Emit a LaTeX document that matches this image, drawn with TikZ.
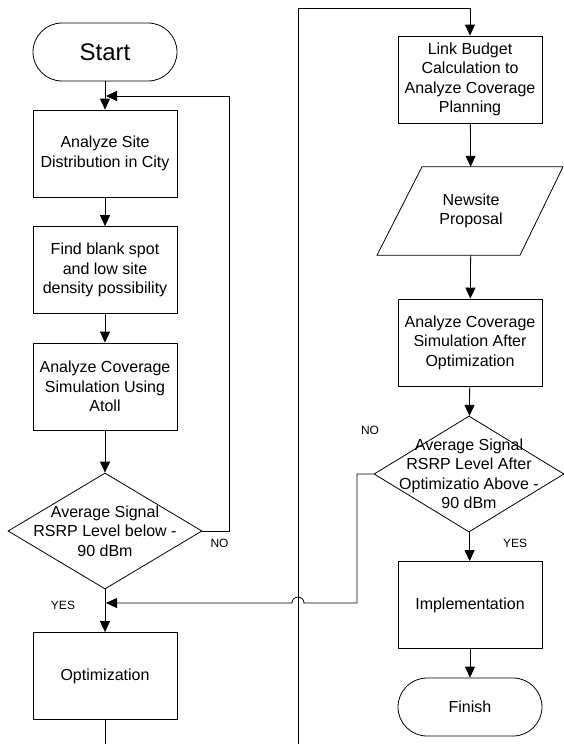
\documentclass[tikz,border=0pt]{standalone}
\usepackage{fontspec}
\setmainfont{Liberation Sans}
\usetikzlibrary{shapes.geometric,arrows.meta,calc}
\begin{document}
\begin{tikzpicture}[x=1pt,y=-1pt,
    every node/.style={font=\fontsize{16}{19.5}\selectfont, align=center},
    caixa/.style={draw, line width=0.8pt, minimum width=144pt, minimum height=87pt, inner sep=2pt},
    term/.style={draw, line width=0.8pt, rounded corners=29pt, minimum width=144pt, minimum height=58pt},
    decisao/.style={draw, diamond, line width=0.8pt, minimum width=194pt, minimum height=116pt, inner sep=0pt},
    rot/.style={font=\fontsize{12}{14}\selectfont},
    seta/.style={line width=0.8pt, -{Triangle[length=11pt,width=10pt]}},
    linha/.style={line width=0.8pt}]
    \useasboundingbox (0,0) rectangle (563,744);

    % Coluna esquerda
    \node (start) [term, font=\fontsize{24}{28}\selectfont] at (105,52) {Start};
    \node (a1) [caixa] at (105,153.5) {Analyze Site\\Distribution in City};
    \node (a2) [caixa] at (105,270) {Find blank spot\\and low site\\density possibility};
    \node (a3) [caixa] at (105,386.5) {Analyze Coverage\\Simulation Using\\Atoll};
    \node (d1) [decisao] at (105,531) {};
    \node (d1txt) at (d1) {Average Signal\\RSRP Level below -\\90 dBm};
    \node (opt) [caixa] at (105,676) {Optimization};

    % Coluna direita
    \node (lb) [caixa] at (470,79.5) {Link Budget\\Calculation to\\Analyze Coverage\\Planning};
    \node (prop) [minimum width=96pt, minimum height=88pt] at (471,211) {Newsite\\Proposal};
    \draw[linha] ($(prop.north)+(-49,0)$) -- ($(prop.north)+(92,0)$)
        -- ($(prop.south)+(49,0)$) -- ($(prop.south)+(-94,0)$) -- cycle;
    \node (a4) [caixa] at (470,342.5) {Analyze Coverage\\Simulation After\\Optimization};
    \node (d2) [decisao, minimum width=190pt] at (469,474) {};
    \node (d2txt) at (d2) {Average Signal\\RSRP Level After\\Optimizatio Above -\\90 dBm};
    \node (impl) [caixa] at (470,605) {Implementation};
    \node (fin) [term] at (470,707) {Finish};

    % Rotulos
    \node (nao1) [rot] at (219.5,543) {NO};
    \node (sim1) [rot] at (63,605) {YES};
    \node (nao2) [rot] at (370,430) {NO};
    \node (sim2) [rot] at (515,543) {YES};

    % Pontos auxiliares
    \coordinate (laco) at (229,96);
    \coordinate (topo) at (106,96);
    \coordinate (desvio) at (357,603);
    \coordinate (salto) at (304,603);
    \coordinate (jun) at (106,603);
    \coordinate (corteE) at (105,744);
    \coordinate (corteD) at (298,744);
    \coordinate (canto) at (298,8);

    % Setas
    \draw[seta] (start) -- (a1);
    \draw[seta] (a1) -- (a2);
    \draw[seta] (a2) -- (a3);
    \draw[seta] (a3) -- (d1);
    \draw[seta] (d1.east) -| (laco) -- (topo);
    \draw[seta] (d1) -- (opt);
    \draw[linha] (opt) -- (corteE);
    \draw[seta] (corteD) -- (canto) -| (lb.north);
    \draw[seta] (lb) -- (prop);
    \draw[seta] (prop) -- (a4);
    \draw[seta] (a4) -- (d2);
    \draw[seta] (d2.west) -| (desvio) -- (salto)
        arc[start angle=0, end angle=180, radius=6pt] -- (jun);
    \draw[seta] (d2) -- (impl);
    \draw[seta] (impl) -- (fin);
\end{tikzpicture}
\end{document}
